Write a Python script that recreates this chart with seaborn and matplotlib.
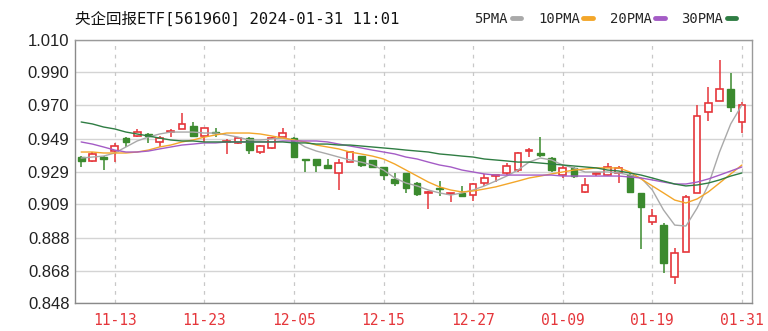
import numpy as np
import pandas as pd
import matplotlib
matplotlib.use("Agg")
import matplotlib.pyplot as plt
import seaborn as sns

# ---------------- data ----------------
dates = ["11-08", "11-09", "11-10", "11-13", "11-14", "11-15", "11-16", "11-17",
         "11-20", "11-21", "11-22", "11-23", "11-24", "11-27", "11-28", "11-29",
         "11-30", "12-01", "12-04", "12-05", "12-06", "12-07", "12-08", "12-11",
         "12-12", "12-13", "12-14", "12-15", "12-18", "12-19", "12-20", "12-21",
         "12-22", "12-25", "12-26", "12-27", "12-28", "12-29", "01-02", "01-03",
         "01-04", "01-05", "01-08", "01-09", "01-10", "01-11", "01-12", "01-15",
         "01-16", "01-17", "01-18", "01-19", "01-22", "01-23", "01-24", "01-25",
         "01-26", "01-29", "01-30", "01-31"]

opens = [0.938, 0.9355, 0.938, 0.9416, 0.9497, 0.951, 0.9521, 0.947, 0.9535, 0.955,
         0.957, 0.951, 0.9535, 0.947, 0.9466, 0.9496, 0.941, 0.9435, 0.950, 0.9496,
         0.937, 0.9367, 0.933, 0.928, 0.935, 0.9385, 0.936, 0.932, 0.9245, 0.928,
         0.922, 0.9155, 0.9185, 0.915, 0.916, 0.9146, 0.922, 0.9265, 0.928, 0.930,
         0.9415, 0.9404, 0.9375, 0.927, 0.931, 0.9164, 0.9275, 0.927, 0.928, 0.927,
         0.9155, 0.898, 0.896, 0.864, 0.8794, 0.9157, 0.9656, 0.9724, 0.980, 0.9595]
highs = [0.9385, 0.941, 0.9385, 0.9466, 0.9503, 0.955, 0.9527, 0.951, 0.955, 0.965,
         0.9595, 0.956, 0.956, 0.949, 0.9505, 0.950, 0.9455, 0.950, 0.9558, 0.950,
         0.937, 0.937, 0.9367, 0.9367, 0.941, 0.9385, 0.936, 0.932, 0.928, 0.928,
         0.9225, 0.917, 0.923, 0.9155, 0.920, 0.922, 0.9275, 0.927, 0.934, 0.941,
         0.9435, 0.950, 0.938, 0.933, 0.932, 0.925, 0.929, 0.934, 0.9325, 0.928,
         0.9155, 0.906, 0.897, 0.882, 0.9145, 0.970, 0.981, 0.9977, 0.9897, 0.972]
lows = [0.932, 0.935, 0.930, 0.935, 0.944, 0.950, 0.9466, 0.944, 0.950, 0.955,
        0.950, 0.947, 0.950, 0.940, 0.946, 0.940, 0.940, 0.943, 0.9495, 0.938,
        0.929, 0.929, 0.931, 0.9176, 0.935, 0.932, 0.9315, 0.924, 0.920, 0.916,
        0.914, 0.906, 0.914, 0.910, 0.9135, 0.911, 0.920, 0.9225, 0.927, 0.929,
        0.938, 0.938, 0.929, 0.925, 0.925, 0.916, 0.926, 0.9265, 0.922, 0.9165,
        0.881, 0.896, 0.8665, 0.860, 0.8794, 0.9157, 0.960, 0.9724, 0.9656, 0.953]
closes = [0.9355, 0.940, 0.937, 0.9447, 0.947, 0.9533, 0.951, 0.9496, 0.954, 0.958,
          0.951, 0.956, 0.953, 0.9475, 0.9496, 0.942, 0.945, 0.9496, 0.953, 0.938,
          0.936, 0.933, 0.931, 0.934, 0.941, 0.933, 0.932, 0.927, 0.922, 0.919,
          0.915, 0.916, 0.918, 0.9155, 0.914, 0.9213, 0.925, 0.927, 0.9324, 0.9404,
          0.942, 0.939, 0.930, 0.931, 0.926, 0.9207, 0.928, 0.932, 0.931, 0.9165,
          0.907, 0.9016, 0.8726, 0.8788, 0.913, 0.963, 0.971, 0.980, 0.9687, 0.970]

ma5 = [0.9373, 0.9379, 0.9385, 0.9404, 0.9441, 0.9478, 0.9502, 0.9521, 0.9533, 0.9533,
       0.9533, 0.9527, 0.9527, 0.9515, 0.9502, 0.9484, 0.9484, 0.9490, 0.9496, 0.9484,
       0.9441, 0.9416, 0.9398, 0.9379, 0.9361, 0.9348, 0.9330, 0.9299, 0.9250, 0.9219,
       0.9201, 0.9176, 0.9158, 0.9145, 0.9158, 0.9176, 0.9201, 0.9231, 0.9262, 0.9299,
       0.9348, 0.9373, 0.9361, 0.9330, 0.9312, 0.9287, 0.9287, 0.9287, 0.9281, 0.9268,
       0.9250, 0.9176, 0.9053, 0.8960, 0.8954, 0.9065, 0.9207, 0.9410, 0.9583, 0.9700]
ma10 = [0.9410, 0.9410, 0.9404, 0.9404, 0.9404, 0.9410, 0.9422, 0.9441, 0.9453, 0.9472,
        0.9484, 0.9502, 0.9515, 0.9527, 0.9527, 0.9527, 0.9521, 0.9509, 0.9496, 0.9484,
        0.9472, 0.9453, 0.9441, 0.9429, 0.9410, 0.9398, 0.9385, 0.9367, 0.9336, 0.9299,
        0.9262, 0.9225, 0.9195, 0.9176, 0.9164, 0.9170, 0.9182, 0.9195, 0.9213, 0.9231,
        0.9250, 0.9262, 0.9275, 0.9287, 0.9299, 0.9305, 0.9312, 0.9312, 0.9312, 0.9287,
        0.9244, 0.9201, 0.9158, 0.9114, 0.9096, 0.9121, 0.9164, 0.9219, 0.9275, 0.9330]
ma20 = [0.9472, 0.9459, 0.9441, 0.9422, 0.9410, 0.9410, 0.9416, 0.9429, 0.9441, 0.9453,
        0.9459, 0.9466, 0.9466, 0.9472, 0.9472, 0.9472, 0.9472, 0.9472, 0.9478, 0.9478,
        0.9478, 0.9478, 0.9472, 0.9459, 0.9447, 0.9435, 0.9422, 0.9410, 0.9398, 0.9379,
        0.9367, 0.9348, 0.9330, 0.9318, 0.9299, 0.9287, 0.9275, 0.9268, 0.9268, 0.9268,
        0.9268, 0.9268, 0.9268, 0.9262, 0.9262, 0.9262, 0.9262, 0.9262, 0.9262, 0.9256,
        0.9250, 0.9238, 0.9225, 0.9213, 0.9213, 0.9225, 0.9244, 0.9268, 0.9293, 0.9318]
ma30 = [0.9595, 0.9583, 0.9564, 0.9552, 0.9533, 0.9521, 0.9509, 0.9496, 0.9484, 0.9478,
        0.9478, 0.9472, 0.9472, 0.9472, 0.9472, 0.9472, 0.9472, 0.9472, 0.9472, 0.9466,
        0.9466, 0.9459, 0.9459, 0.9453, 0.9453, 0.9447, 0.9441, 0.9435, 0.9429, 0.9422,
        0.9416, 0.9410, 0.9398, 0.9392, 0.9385, 0.9379, 0.9367, 0.9361, 0.9355, 0.9348,
        0.9348, 0.9342, 0.9336, 0.9330, 0.9324, 0.9318, 0.9312, 0.9299, 0.9293, 0.9281,
        0.9268, 0.9250, 0.9231, 0.9213, 0.9201, 0.9207, 0.9219, 0.9238, 0.9262, 0.9281]

ytick_values = [0.848, 0.868, 0.888, 0.909, 0.929, 0.949, 0.970, 0.990, 1.010]
ytick_labels = ["0.848", "0.868", "0.888", "0.909", "0.929", "0.949", "0.970", "0.990", "1.010"]
xtick_labels = ["11-13", "11-23", "12-05", "12-15", "12-27", "01-09", "01-19", "01-31"]
title_text = "央企回报ETF[561960] 2024-01-31 11:01"
ma_names = ["5PMA", "10PMA", "20PMA", "30PMA"]

# ---------------- style ----------------
RED = "#e5363b"
GREEN = "#3b8a2e"
ma_colors = ["#a9a9a9", "#f3a62a", "#a45cc6", "#2f7d43"]

sns.set_style("white")
plt.rcParams["font.family"] = ["Liberation Sans", "DejaVu Sans"]
MONO = ["DejaVu Sans Mono", "Noto Sans CJK SC"]

fig = plt.figure(figsize=(7.68, 3.31), dpi=100)
ax = fig.add_axes([75 / 768, 1 - 303 / 331, 677 / 768, 263 / 331])

df = pd.DataFrame({"date": dates, "open": opens, "high": highs,
                   "low": lows, "close": closes})
df["idx"] = np.arange(len(df))
up = df["close"] >= df["open"]

# grid
for yv in ytick_values:
    ax.axhline(yv, color="#d4d4d4", lw=1.0, zorder=0)
tick_pos = [dates.index(d) for d in xtick_labels]
for xp in tick_pos:
    ax.axvline(xp, color="#c8c8c8", lw=0.9, ls=(0, (3, 4)), zorder=0)

# wicks
body_w = 0.6
for _, r in df.iterrows():
    c = RED if r["close"] >= r["open"] else GREEN
    top = max(r["open"], r["close"])
    bot = min(r["open"], r["close"])
    ax.vlines(r["idx"], top, r["high"], color=c, lw=1.1, zorder=2)
    ax.vlines(r["idx"], r["low"], bot, color=c, lw=1.1, zorder=2)

# bodies
body_h = (df["close"] - df["open"]).abs().clip(lower=0.0006)
body_b = df[["open", "close"]].min(axis=1)
ax.bar(df.loc[up, "idx"], body_h[up], bottom=body_b[up], width=body_w,
       facecolor="white", edgecolor=RED, linewidth=1.2, zorder=3)
ax.bar(df.loc[~up, "idx"], body_h[~up], bottom=body_b[~up], width=body_w,
       facecolor=GREEN, edgecolor=GREEN, linewidth=1.0, zorder=3)

# moving averages via seaborn
ma_df = pd.DataFrame({"idx": df["idx"], "5PMA": ma5, "10PMA": ma10,
                      "20PMA": ma20, "30PMA": ma30})
long_df = ma_df.melt(id_vars="idx", var_name="ma", value_name="value")
sns.lineplot(data=long_df, x="idx", y="value", hue="ma", hue_order=ma_names,
             palette=ma_colors, linewidth=1.0, ax=ax, legend=False, zorder=4)

# axes
ax.set_xlim(-0.55, 59.9)
ax.set_ylim(0.848, 1.010)
ax.set_yticks(ytick_values)
ax.set_yticklabels(ytick_labels, fontsize=12, color="#222222")
ax.set_xticks(tick_pos)
ax.set_xticklabels(xtick_labels, fontsize=10.5, color=RED, family=MONO)
ax.tick_params(axis="both", length=0)
ax.tick_params(axis="x", pad=7)
ax.tick_params(axis="y", pad=4)
ax.set_xlabel("")
ax.set_ylabel("")
for s in ax.spines.values():
    s.set_color("#9a9a9a")
    s.set_linewidth(1.0)
ax.spines["left"].set_color("#8a8a8a")
ax.spines["bottom"].set_color("#8a8a8a")

# title
fig.text(75 / 768, 1 - 19 / 331, title_text, fontsize=11.2, family=MONO,
         color="#111111", va="center", ha="left")

# legend (text before handle)
handles = [plt.Line2D([], [], color=c, lw=3.5) for c in ma_colors]
fig.legend(handles, ma_names, loc="center right", bbox_to_anchor=(742 / 768, 1 - 19 / 331),
           ncol=4, frameon=False, markerfirst=False, handlelength=0.7,
           handletextpad=0.25, columnspacing=1.2, borderaxespad=0,
           prop={"family": MONO, "size": 10})

fig.savefig("out.png", dpi=100)
